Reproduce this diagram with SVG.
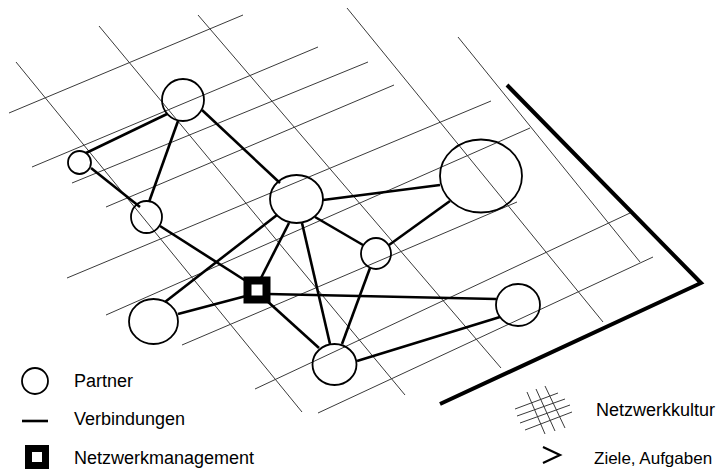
<svg xmlns="http://www.w3.org/2000/svg" width="716" height="472" viewBox="0 0 716 472">
<style>
.grid{stroke:#3a3a3a;stroke-width:1;fill:none}
.edge{stroke:#000;stroke-width:2.6;fill:none}
.node{stroke:#000;stroke-width:1.8;fill:none}
.mgmt{stroke:#000;stroke-width:8;fill:#fff}
.frame{stroke:#000;stroke-width:4;fill:none;stroke-linejoin:miter}
.lbl{font-family:"Liberation Sans",Arial,sans-serif;font-size:18px;fill:#000}
</style>
<rect width="716" height="472" fill="#fff"/>
<g id="culture-grid">
<line class="grid" x1="16" y1="62" x2="302" y2="412"/>
<line class="grid" x1="99" y1="26" x2="405" y2="395"/>
<line class="grid" x1="198" y1="15" x2="501" y2="368"/>
<line class="grid" x1="347" y1="8" x2="603" y2="322"/>
<line class="grid" x1="458" y1="37" x2="640" y2="262"/>
<line class="grid" x1="9" y1="113" x2="243" y2="15"/>
<line class="grid" x1="32" y1="167" x2="318" y2="47"/>
<line class="grid" x1="72" y1="183" x2="368" y2="62"/>
<line class="grid" x1="106" y1="207" x2="394" y2="85"/>
<line class="grid" x1="67" y1="278" x2="491" y2="101"/>
<line class="grid" x1="106" y1="315" x2="530" y2="128"/>
<line class="grid" x1="182" y1="345" x2="517" y2="202"/>
<line class="grid" x1="255" y1="389" x2="630" y2="213"/>
<line class="grid" x1="318" y1="413" x2="653" y2="257"/>
</g>
<g id="goals-frame">
<polyline class="frame" points="507,85 701,283 440,404"/>
</g>
<g id="connectors">
<line class="edge" x1="86" y1="153" x2="167" y2="114"/>
<line class="edge" x1="178" y1="121" x2="149" y2="202"/>
<line class="edge" x1="202" y1="110" x2="280" y2="183"/>
<line class="edge" x1="91" y1="168" x2="140" y2="207"/>
<line class="edge" x1="160" y1="226" x2="246" y2="281"/>
<line class="edge" x1="323" y1="200" x2="440" y2="185"/>
<line class="edge" x1="315" y1="217" x2="363" y2="245"/>
<line class="edge" x1="289" y1="223" x2="261" y2="278"/>
<line class="edge" x1="277" y1="215" x2="165" y2="302"/>
<line class="edge" x1="302" y1="223" x2="330" y2="344"/>
<line class="edge" x1="389" y1="245" x2="450" y2="201"/>
<line class="edge" x1="370" y1="268" x2="342" y2="344"/>
<line class="edge" x1="246" y1="296" x2="178" y2="314"/>
<line class="edge" x1="266" y1="300" x2="319" y2="348"/>
<line class="edge" x1="268" y1="294" x2="496" y2="299"/>
<line class="edge" x1="357" y1="361" x2="500" y2="317"/>
</g>
<g id="partner-1"><ellipse class="node" cx="183" cy="100" rx="21" ry="21"/></g>
<g id="partner-2"><ellipse class="node" cx="79.5" cy="162.5" rx="11.5" ry="11.5"/></g>
<g id="partner-3"><ellipse class="node" cx="146.5" cy="217" rx="15.5" ry="16"/></g>
<g id="partner-4"><ellipse class="node" cx="296.5" cy="199" rx="26.5" ry="24"/></g>
<g id="partner-5"><ellipse class="node" cx="481" cy="176" rx="41" ry="36.5"/></g>
<g id="partner-6"><ellipse class="node" cx="376" cy="253.5" rx="15" ry="15.5"/></g>
<g id="partner-7"><ellipse class="node" cx="153.5" cy="321.5" rx="24.5" ry="22.5"/></g>
<g id="partner-8"><ellipse class="node" cx="334.5" cy="364.5" rx="22" ry="20.5"/></g>
<g id="partner-9"><ellipse class="node" cx="518" cy="305" rx="22" ry="21"/></g>
<g id="management"><rect class="mgmt" x="247.5" y="280.5" width="19" height="19"/></g>
<g id="legend">
<circle class="node" cx="35" cy="381" r="13"/>
<text class="lbl" x="74" y="387">Partner</text>
<line class="edge" x1="22" y1="421" x2="48" y2="421"/>
<text class="lbl" x="74" y="425">Verbindungen</text>
<rect x="28.5" y="448.5" width="17" height="17" stroke="#000" stroke-width="7" fill="#fff"/>
<text class="lbl" x="74" y="464">Netzwerkmanagement</text>
<g class="grid">
<line x1="527" y1="392" x2="545" y2="434"/>
<line x1="536" y1="389" x2="555" y2="431"/>
<line x1="545" y1="386" x2="565" y2="428"/>
<line x1="515" y1="409" x2="558" y2="393"/>
<line x1="517" y1="416" x2="565" y2="399"/>
<line x1="520" y1="423" x2="570" y2="405"/>
<line x1="525" y1="430" x2="572" y2="412"/>
</g>
<text class="lbl" x="596" y="416">Netzwerkkultur</text>
<polyline points="543,447 560,455 543,463" stroke="#000" stroke-width="2.2" fill="none"/>
<text class="lbl" x="594" y="464" style="font-size:17px">Ziele, Aufgaben</text>
</g>
</svg>
